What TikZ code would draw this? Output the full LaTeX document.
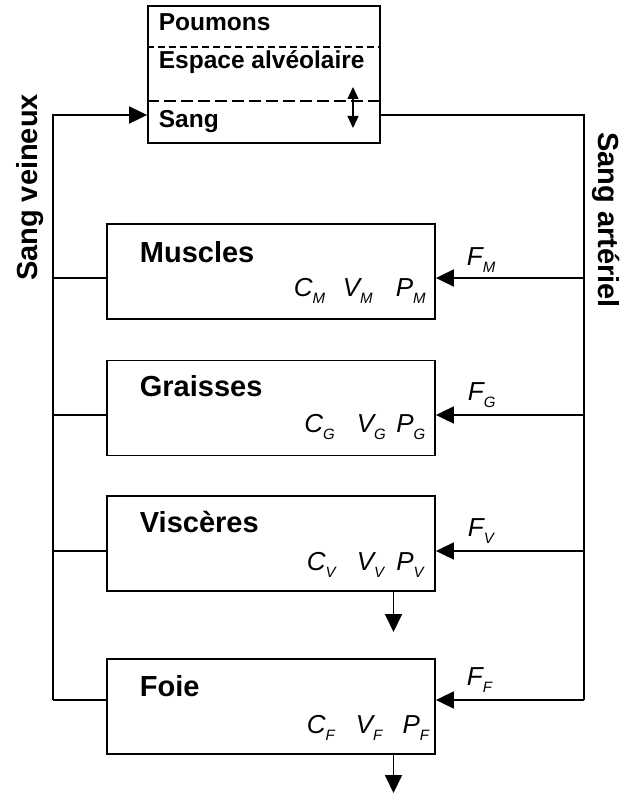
\documentclass[tikz,border=0pt]{standalone}
\usepackage{fontspec}
\setmainfont{Liberation Sans}
\usetikzlibrary{arrows.meta}
\newcommand{\symb}[2]{{\fontsize{26}{26}\selectfont\itshape #1}\raisebox{-7pt}{\fontsize{15}{15}\selectfont\itshape #2}}
\begin{document}
\begin{tikzpicture}[x=1pt,y=-1pt,
  line width=1.8pt,
  comp/.style={draw, rectangle, minimum width=328pt, minimum height=95pt, inner sep=0pt},
  lungbox/.style={draw, rectangle, minimum width=232pt, minimum height=137pt, inner sep=0pt},
  txt/.style={anchor=base west, inner sep=0pt},
  cname/.style={txt, font=\fontsize{29}{29}\selectfont\bfseries},
  lname/.style={txt, font=\fontsize{24.5}{24.5}\selectfont\bfseries},
  side/.style={anchor=base, inner sep=0pt, font=\fontsize{29}{29}\selectfont\bfseries},
  arr/.style={-{Triangle[length=18pt,width=17pt]}},
  smallarr/.style={{Triangle[length=12pt,width=11pt]}-{Triangle[length=12pt,width=11pt]}},
  sep1/.style={line width=1.3pt, dash pattern=on 7pt off 4pt},
  sep2/.style={line width=1.3pt, dash pattern=on 12pt off 5pt}
]
\useasboundingbox (0,0) rectangle (621,794);

% lung box
\node[lungbox] (lung) at (264,74.5) {};
\coordinate (d1) at (0,47);
\coordinate (d2) at (0,101);
\draw[sep1] (lung.west |- d1) -- (lung.east |- d1);
\draw[sep2] (lung.west |- d2) -- (lung.east |- d2);
\node[lname] (poum) at (158,30.7) {Poumons};
\node[lname] (esp) at (158,69) {Espace alvéolaire};
\node[lname] (sang) at (158,128) {Sang};
\coordinate (ex1) at (353,87);
\coordinate (ex2) at (353,128);
\draw[smallarr, line width=1.3pt] (ex1) -- (ex2);

% compartments
\node[comp] (mus) at (271,271.5) {};
\node[comp] (gra) at (271,408) {};
\node[comp] (vis) at (271,543.5) {};
\node[comp] (foi) at (271,706.5) {};

\node[cname] (musn) at (139,262.3) {Muscles};
\node[cname] (gran) at (139,396.7) {Graisses};
\node[cname] (visn) at (139,532.7) {Viscères};
\node[cname] (foin) at (139,696.7) {Foie};

\node[txt] (cm) at (293,296.7) {\symb{C}{M}};
\node[txt] (vm) at (342,296.7) {\symb{V}{M}};
\node[txt] (pm) at (395,296.7) {\symb{P}{M}};
\node[txt] (cg) at (303.5,432.7) {\symb{C}{G}};
\node[txt] (vg) at (356,432.7) {\symb{V}{G}};
\node[txt] (pg) at (395.4,432.7) {\symb{P}{G}};
\node[txt] (cv) at (306,570) {\symb{C}{V}};
\node[txt] (vv) at (356,570) {\symb{V}{V}};
\node[txt] (pv) at (395.4,570) {\symb{P}{V}};
\node[txt] (cf) at (306,733) {\symb{C}{F}};
\node[txt] (vf) at (355,733) {\symb{V}{F}};
\node[txt] (pf) at (401.7,733) {\symb{P}{F}};

\node[txt] (fm) at (466,265) {\symb{F}{M}};
\node[txt] (fg) at (467,400) {\symb{F}{G}};
\node[txt] (fv) at (467,536.7) {\symb{F}{V}};
\node[txt] (ff) at (466,685) {\symb{F}{F}};

% side labels
\node[side, rotate=90] (veine) at (37,187.5) {Sang veineux};
\node[side, rotate=-90] (arter) at (598,220) {Sang artériel};

% venous return
\coordinate (vtop) at (53,115);
\coordinate (vbot) at (53,700);
\coordinate (v1) at (53,278);
\coordinate (v2) at (53,415);
\coordinate (v3) at (53,551);
\draw[arr] (vbot) -- (vtop) -- (vtop -| lung.west);
\draw (v1) -- (v1 -| mus.west);
\draw (v2) -- (v2 -| gra.west);
\draw (v3) -- (v3 -| vis.west);
\draw (vbot) -- (vbot -| foi.west);

% arterial supply
\coordinate (atop) at (584,115);
\coordinate (abot) at (584,700);
\coordinate (a1) at (584,278);
\coordinate (a2) at (584,415);
\coordinate (a3) at (584,551);
\draw (lung.east |- atop) -- (atop) -- (abot);
\draw[arr] (a1) -- (a1 -| mus.east);
\draw[arr] (a2) -- (a2 -| gra.east);
\draw[arr] (a3) -- (a3 -| vis.east);
\draw[arr] (abot) -- (abot -| foi.east);

% outflows
\coordinate (o1) at (393.5,632);
\coordinate (o2) at (393.5,793);
\draw[arr] (vis.south -| o1) -- (o1);
\draw[arr] (foi.south -| o2) -- (o2);
\end{tikzpicture}
\end{document}
